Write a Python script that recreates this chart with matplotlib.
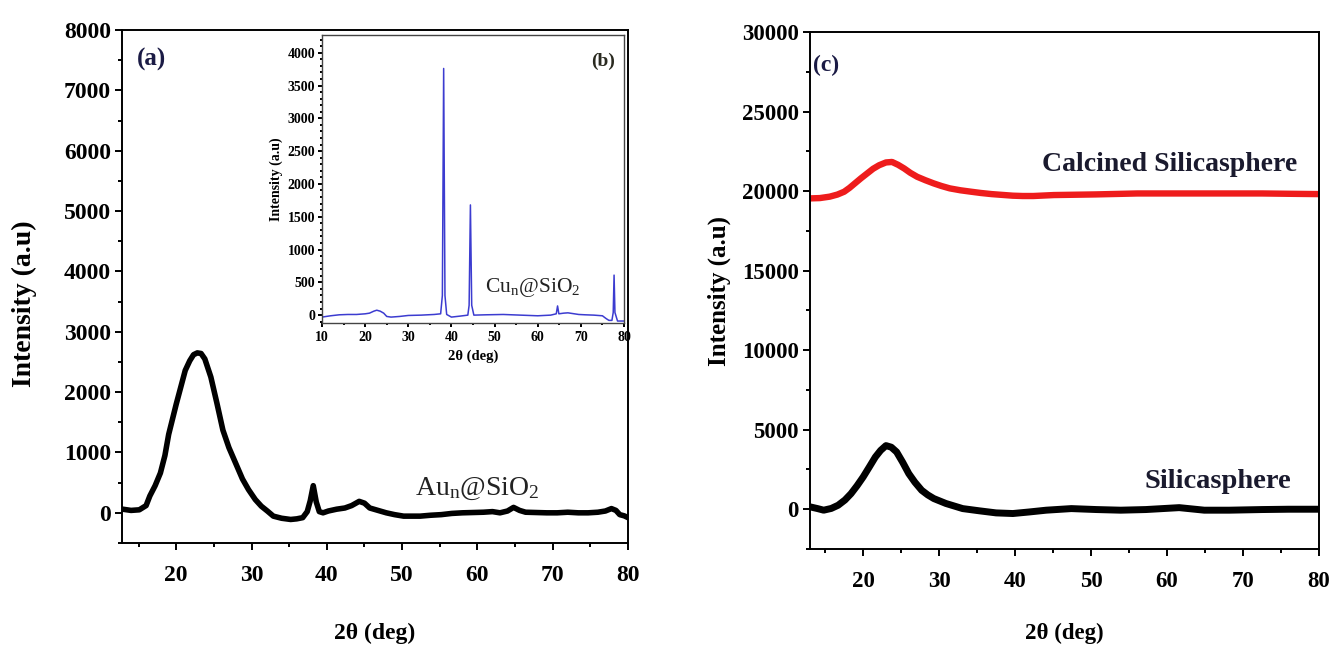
import matplotlib
matplotlib.use('Agg')
import matplotlib.pyplot as plt
import matplotlib.ticker as ticker

plt.rcParams['font.family'] = ['Liberation Serif', 'DejaVu Serif']
plt.rcParams['mathtext.fontset'] = 'custom'
plt.rcParams['mathtext.rm'] = 'Liberation Serif'
plt.rcParams['mathtext.it'] = 'Liberation Serif:italic'
plt.rcParams['mathtext.bf'] = 'Liberation Serif:bold'

# (a) Au_n@SiO2, values (2theta, intensity)
a_theta = [12.9, 14.0, 15.1, 16.0, 16.5, 17.2, 17.9, 18.5, 19.0, 19.5, 20.0, 20.6, 21.2, 21.8,
           22.3, 22.8, 23.3, 23.8, 24.2, 24.6, 25.4, 26.2, 27.0, 27.9, 28.8, 29.6, 30.5,
           31.3, 32.1, 32.9, 34.0, 35.2, 36.0, 36.8, 37.4, 37.8, 38.2, 38.6, 39.0, 39.5,
           40.2, 41.3, 42.4, 43.3, 44.3, 45.0, 45.7, 46.8, 47.9, 49.0, 50.2, 51.3, 52.4,
           53.8, 55.2, 56.6, 58.0, 59.4, 60.8, 62.0, 63.0, 64.0, 64.8, 65.6, 66.4, 67.8,
           69.2, 70.6, 72.0, 73.4, 74.7, 76.0, 77.0, 77.8, 78.4, 78.9, 79.5, 80.0]
a_int = [60, 40, 50, 120, 280, 450, 660, 950, 1300, 1550, 1800, 2080, 2360, 2520,
         2620, 2650, 2640, 2550, 2400, 2250, 1820, 1370, 1080, 820, 560, 385, 220,
         110, 30, -55, -90, -110, -100, -80, 20, 200, 450, 180, 20, 0,
         30, 60, 80, 120, 190, 160, 80, 40, 0, -30, -55, -55, -55,
         -40, -30, -10, 0, 5, 10, 20, 0, 30, 90, 40, 10, 5,
         0, 0, 10, 0, 0, 10, 30, 70, 40, -30, -50, -80]

# (b) inset Cu_n@SiO2
b_theta = [10, 11, 12, 14, 16, 18, 20, 21, 22, 22.7, 23.5, 24.3, 25.0, 26, 27, 28, 30, 33,
           36, 37.5, 37.9, 38.2, 38.5, 38.9, 40, 42, 43.8, 44.1, 44.4, 44.7, 45.2, 48,
           52, 56, 60, 63, 64.3, 64.6, 64.9, 66, 67, 68, 69.5, 71, 73, 75, 75.8, 76.5,
           77.2, 77.5, 77.7, 77.9, 78.5, 80]
b_int = [-30, -20, -10, 5, 10, 10, 20, 30, 60, 75, 60, 30, -20, -30, -25, -20, -5, 0,
         10, 20, 300, 3760, 300, 10, -30, -15, 0, 150, 1680, 150, 0, 5,
         10, 0, -10, 0, 20, 140, 20, 30, 35, 25, 10, 5, 0, -10, -50, -80,
         -80, 40, 610, 40, -90, -90]

# (c) silicasphere (black) and calcined silicasphere (red)
c_theta = [13.0, 14.0, 14.8, 15.8, 16.7, 17.6, 18.4, 19.2, 20.0, 20.8, 21.6, 22.3, 23.0,
           23.7, 24.4, 25.2, 26.0, 26.8, 27.7, 28.5, 29.3, 30.9, 33.1, 35.3, 37.5, 39.7,
           41.9, 44.1, 47.4, 50.7, 53.9, 57.2, 61.6, 64.9, 68.2, 72.5, 76.0, 80.0]
c_silica = [150, 40, -60, 50, 250, 580, 980, 1480, 2030, 2650, 3280, 3700, 4000,
            3900, 3600, 2950, 2240, 1700, 1190, 900, 670, 360, 40, -100, -230, -270,
            -170, -60, 40, -20, -60, -20, 100, -60, -60, -20, 0, 0]
d_theta = [13.0, 14.3, 15.6, 16.6, 17.5, 18.2, 18.9, 19.7, 20.5, 21.3, 22.1, 23.0, 23.8,
           24.6, 25.4, 26.2, 27.1, 28.2, 29.3, 30.3, 31.4, 32.8, 34.2, 35.5, 36.9, 38.3,
           39.7, 41.0, 42.4, 45.1, 50.6, 56.1, 61.6, 67.0, 72.5, 76.0, 80.0]
d_calcined = [19540, 19560, 19650, 19780, 19960, 20200, 20480, 20800, 21100, 21400, 21625, 21800, 21830,
              21650, 21420, 21150, 20900, 20680, 20480, 20320, 20170, 20050, 19960, 19880, 19810, 19760,
              19710, 19690, 19690, 19750, 19790, 19850, 19850, 19850, 19850, 19830, 19810]

W, H = 1332, 648
fig = plt.figure(figsize=(W / 100, H / 100), dpi=100)

def px(l, t, r, b):
    return [l / W, 1 - b / H, (r - l) / W, (b - t) / H]

navy = '#1b1b45'

def style(ax, fs, major=5, minor=3, xpad=9, ypad=3):
    for s in ax.spines.values():
        s.set_linewidth(1.4)
    ax.tick_params(which='both', direction='out', width=1.4, top=False, right=False)
    ax.tick_params(which='major', length=major)
    ax.tick_params(which='minor', length=minor)
    ax.tick_params(axis='x', pad=xpad, labelsize=fs)
    ax.tick_params(axis='y', pad=ypad, labelsize=fs)
    for lab in ax.get_xticklabels() + ax.get_yticklabels():
        lab.set_fontweight('bold')

# ---- panel (a)
ax = fig.add_axes(px(122, 30, 628, 543))
ax.plot(a_theta, a_int, color='black', lw=4.0, solid_joinstyle='round')
ax.set_xlim(12.8, 80)
ax.set_ylim(-500, 8000)
ax.xaxis.set_major_locator(ticker.MultipleLocator(10))
ax.xaxis.set_minor_locator(ticker.MultipleLocator(5))
ax.yaxis.set_major_locator(ticker.MultipleLocator(1000))
ax.yaxis.set_minor_locator(ticker.MultipleLocator(500))
style(ax, 17, xpad=11)
ax.set_xticks([20, 30, 40, 50, 60, 70, 80])
ax.set_xticklabels(['20', '30', '40', '50', '60', '70', '80'], fontweight='bold')
ax.set_ylabel('Intensity (a.u)', fontsize=20, fontweight='bold')
ax.yaxis.set_label_coords(-0.168, 0.466)
ax.set_xlabel('2θ (deg)', fontsize=17, fontweight='bold', labelpad=26)
ax.text(0.03, 0.965, '(a)', transform=ax.transAxes, fontsize=18, fontweight='bold',
        color=navy, va='top', ha='left')
ax.text(51.7, 300, r'Au$_\mathregular{n}$@SiO$_\mathregular{2}$', fontsize=20, color='#222222',
        ha='left', va='baseline')

# ---- inset (b)
axb = fig.add_axes(px(322, 35, 624, 323))
axb.plot(b_theta, b_int, color='#3c3cd0', lw=1.1)
axb.set_xlim(10, 80)
axb.set_ylim(-120, 4270)
axb.xaxis.set_major_locator(ticker.MultipleLocator(10))
axb.xaxis.set_minor_locator(ticker.MultipleLocator(5))
axb.yaxis.set_major_locator(ticker.MultipleLocator(500))
axb.yaxis.set_minor_locator(ticker.MultipleLocator(100))
style(axb, 10, major=3, minor=1.5, xpad=3, ypad=2)
for s in axb.spines.values():
    s.set_linewidth(1.0)
    s.set_color('#444444')
axb.set_ylabel('Intensity (a.u)', fontsize=10, fontweight='bold', labelpad=3)
axb.set_xlabel('2θ (deg)', fontsize=10.5, fontweight='bold', labelpad=4)
axb.text(0.97, 0.94, '(b)', transform=axb.transAxes, fontsize=14, fontweight='bold',
         color='#2a2a20', ha='right', va='top')
axb.text(47.8, 350, r'Cu$_\mathregular{n}$@SiO$_\mathregular{2}$', fontsize=15.5, color='#222222',
         ha='left', va='baseline')

# ---- panel (c)
axc = fig.add_axes(px(810, 32, 1319, 549))
axc.plot(d_theta, d_calcined, color='#ee1c1c', lw=4.6, solid_joinstyle='round')
axc.plot(c_theta, c_silica, color='black', lw=5.0, solid_joinstyle='round')
axc.set_xlim(13, 80)
axc.set_ylim(-2500, 30000)
axc.xaxis.set_major_locator(ticker.MultipleLocator(10))
axc.xaxis.set_minor_locator(ticker.MultipleLocator(5))
axc.yaxis.set_major_locator(ticker.MultipleLocator(5000))
axc.yaxis.set_minor_locator(ticker.MultipleLocator(2500))
style(axc, 16.5, xpad=11)
axc.set_xticks([20, 30, 40, 50, 60, 70, 80])
axc.set_xticklabels(['20', '30', '40', '50', '60', '70', '80'], fontweight='bold')
axc.set_ylabel('Intensity (a.u)', fontsize=18, fontweight='bold', labelpad=8)
axc.set_xlabel('2θ (deg)', fontsize=16.5, fontweight='bold', labelpad=22)
axc.text(0.005, 0.955, '(c)', transform=axc.transAxes, fontsize=17, fontweight='bold',
         color=navy, va='top', ha='left')
axc.text(77.1, 21270, 'Calcined Silicasphere', fontsize=20, fontweight='bold',
         color='#1a1a2e', ha='right', va='baseline')
axc.text(76.3, 1320, 'Silicasphere', fontsize=20.5, fontweight='bold',
         color='#1a1a2e', ha='right', va='baseline')

fig.savefig('out.png', dpi=100)
